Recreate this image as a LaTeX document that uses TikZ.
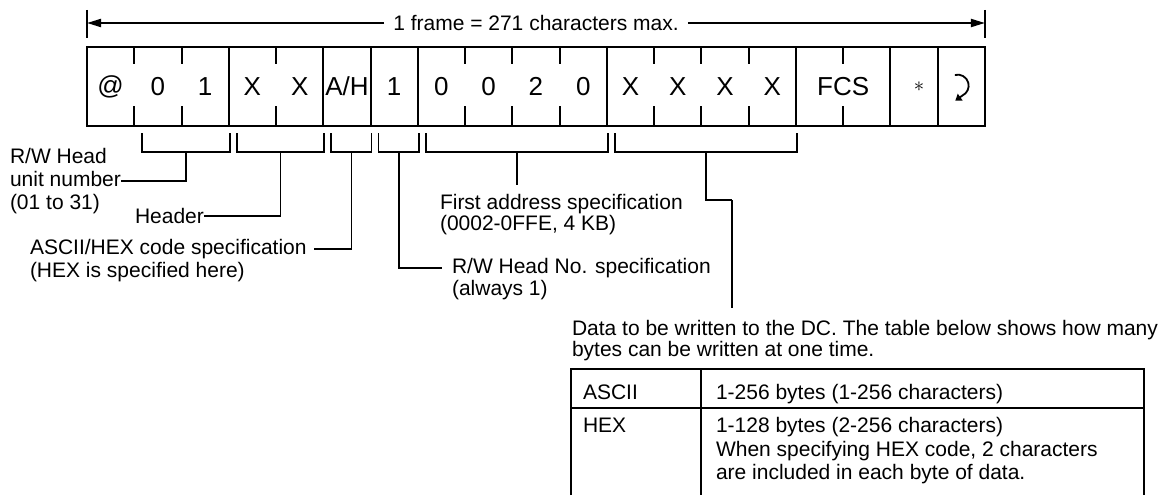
\documentclass[tikz,border=0pt]{standalone}
\usepackage{fontspec}
\setmainfont{Liberation Sans}
\usetikzlibrary{arrows.meta,positioning,calc}

\begin{document}
\begin{tikzpicture}[
  x=1pt, y=1pt,
  font=\fontsize{21}{23}\selectfont,
  >={Triangle[length=14pt,width=8pt]},
  node distance=0pt,
  cell/.style={minimum width=47.26pt, minimum height=79pt, inner sep=0pt, outer sep=0pt,
               font=\fontsize{26}{28}\selectfont},
  wide/.style={cell, minimum width=94.52pt},
  frm/.style={line width=2pt},
  lead/.style={line width=1.8pt},
  dim/.style={->, line width=2pt},
  lbl/.style={inner sep=0pt, outer sep=0pt, align=left, anchor=base west},
  grid/.style={line width=2.4pt},
]
\useasboundingbox (0,0) rectangle (1174,-495);

% ---- the frame, one cell per character ---------------------------------
\node[cell] (at) at (110.63,-86.5) {@};
\node[cell, right=of at] (u1) {0};
\node[cell, right=of u1] (u2) {1};
\node[cell, right=of u2] (h1) {X};
\node[cell, right=of h1] (h2) {X};
\node[cell, right=of h2] (ah) {A/H};
\node[cell, right=of ah] (hd) {1};
\node[cell, right=of hd] (a1) {0};
\node[cell, right=of a1] (a2) {0};
\node[cell, right=of a2] (a3) {2};
\node[cell, right=of a3] (a4) {0};
\node[cell, right=of a4] (d1) {X};
\node[cell, right=of d1] (d2) {X};
\node[cell, right=of d2] (d3) {X};
\node[cell, right=of d3] (d4) {X};
\node[wide, right=of d4] (fcs) {FCS};
\node[cell, right=of fcs, font=\fontsize{20}{20}\selectfont] (ast) {\hspace*{10pt}$\ast$};
\node[cell, right=of ast] (cr) {};

\draw[frm] (at.north west) rectangle (cr.south east);
\foreach \c in {u2,h2,ah,hd,a4,d4,fcs,ast}
  \draw[frm] (\c.north east) -- (\c.south east);
\foreach \c in {at,u1,h1,a1,a2,a3,d1,d2,d3} {
  \draw[frm] (\c.north east) -- ++(0,-17);
  \draw[frm] (\c.south east) -- ++(0,20);
}
\draw[frm] (fcs.north) -- ++(0,-17);
\draw[frm] (fcs.south) -- ++(0,20);
% carriage return mark
\draw[lead, -{Triangle[length=6pt,width=8pt]}] ($(cr.center)+(-6.5,11.5)$)
  arc[start angle=105, end angle=-65, radius=11pt] -- ++(-7,-5);

% ---- frame length ---------------------------------------------------------
\coordinate (fl) at ($(at.north west)+(0,24)$);
\coordinate (fr) at ($(cr.north east)+(0,24)$);
\node[inner xsep=9pt, inner ysep=0pt] (ttl) at ($(fl)!0.5!(fr)$) {1 frame = 271 characters max.};
\draw[dim] (ttl) -- (fl);
\draw[dim] (ttl) -- (fr);
\draw[frm] ($(fl)+(0,13)$) -- ($(fl)+(0,-15)$);
\draw[frm] ($(fr)+(0,13)$) -- ($(fr)+(0,-15)$);

% ---- brackets under the field groups -------------------------------------
\foreach \l/\r/\n in {u1/u2/b1, h1/h2/b2, ah/ah/b3, hd/hd/b4, a1/a4/b5, d1/d4/b6} {
  \draw[lead] ($(\l.south west)+(8,-7)$) |- ($(\r.south east)+(1,-26)$) -- ++(0,19);
  \coordinate (\n) at ($(\l.south west)!0.5!(\r.south east)+(4.5,-26)$);
}

% ---- field labels (anchored on the baseline of their last line) -------------
\node[lbl] (rwu) at (10,-209.5) {R/W Head\\unit number\\(01 to 31)};
\node[lbl] (hdr) at (135,-223.5) {Header};
\node[lbl] (asc) at (30,-254.5) {ASCII/HEX code specification};
\node[lbl] (ascn) at ($(asc.base west)+(0,-23)$) {(HEX is specified here)};
\node[lbl, font=\fontsize{21}{21.5}\selectfont] (fa) at (440,-230.5)
  {First address specification\\(0002-0FFE, 4 KB)};
\node[lbl] (rwn) at (452,-273.5) {R/W Head No. specification};
\node[lbl] (rwnn) at ($(rwn.base west)+(0,-22)$) {(always 1)};
\node[lbl, font=\fontsize{21}{21}\selectfont] (dat) at (572,-356.5)
  {Data to be written to the DC. The table below shows how many\\bytes can be written at one time.};

\draw[lead] (b1) |- (rwu.east);
\draw[lead] (b2) |- (hdr.east);
\draw[lead, shorten >=7pt] (b3) |- (asc.east);
\draw[lead, shorten >=10pt] (b4) |- (rwn.west);
\draw[lead, shorten >=9pt] (b5) -- (b5 |- fa.north);
\coordinate (bk) at ($(b6)+(26.5,-48)$);
\draw[lead] (b6) |- (bk);
\draw[lead, shorten >=12pt] (bk) -- (bk |- dat.north);

% ---- bytes per write --------------------------------------------------------
\draw[grid] (571,-495) |- (1144,-369) -- (1144,-495);
\draw[grid] (701,-369) -- (701,-495);
\draw[lead] (571,-408) -- (1144,-408);
\node[lbl] (tasc) at (583,-399.5) {ASCII};
\node[lbl] (tascv) at (716,-399.5) {1-256 bytes (1-256 characters)};
\node[lbl] (thex) at (583,-432.5) {HEX};
\node[lbl, font=\fontsize{21}{23.5}\selectfont] (thexv) at (716,-479.5)
  {1-128 bytes (2-256 characters)\\When specifying HEX code, 2 characters\\are included in each byte of data.};

\end{tikzpicture}
\end{document}
